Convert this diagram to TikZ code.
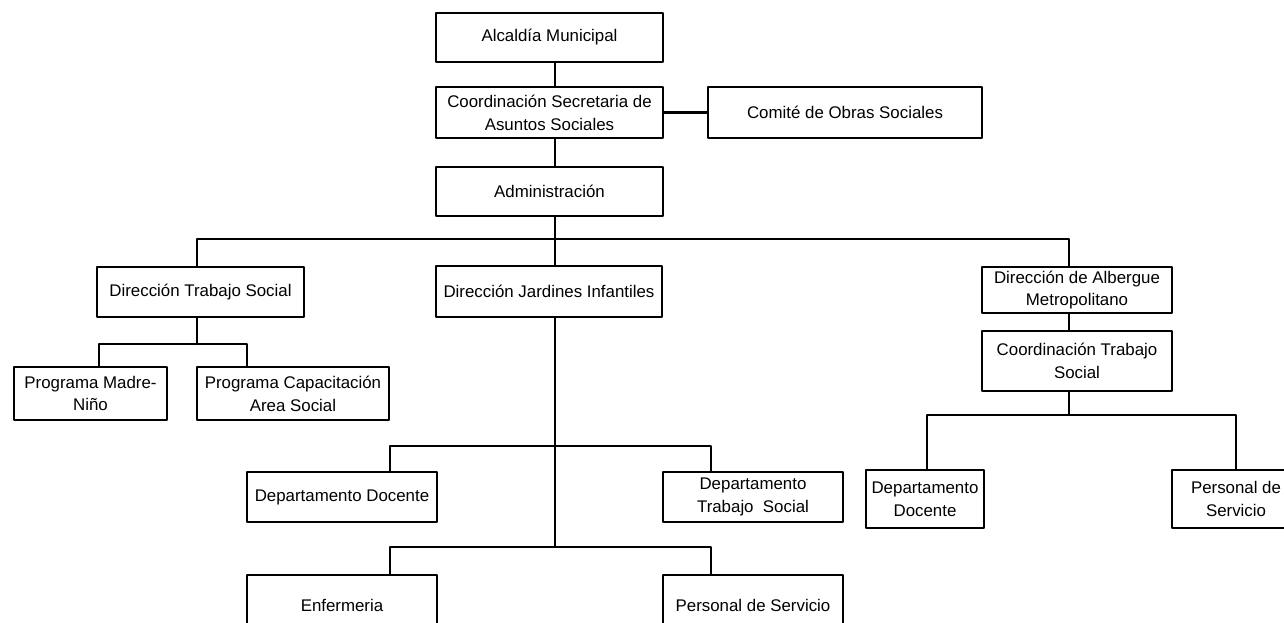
\documentclass[tikz,border=0pt]{standalone}
\usepackage{fontspec}
\setmainfont{Liberation Sans}
\usepackage{tikz}
\usetikzlibrary{positioning}
\usetikzlibrary{calc}

\tikzset{
  caja/.style 2 args={draw,line width=0.8pt,align=center,inner sep=1pt,
    minimum width=#1*0.02cm,minimum height=#2*0.02cm,
    font=\fontsize{9.6}{13}\selectfont},
  linea/.style={line width=1.4pt}
}

\begin{document}
\begin{tikzpicture}[line cap=round,line join=round,x=0.02cm,y=-0.02cm]
\useasboundingbox (0,0) rectangle (1284,622);
\fill[white] (0,0) rectangle (1284,622);
\clip (0,0) rectangle (1284,622);
% boxes
\node[caja={227}{49}] (alc) at (549.5,37.5) {Alcaldía Municipal};
\node[caja={227}{51}] (csec) at (549.5,112.5) {Coordinación Secretaria de\\Asuntos Sociales};
\node[caja={274}{51}] (comite) at (845,112.5) {Comité de Obras Sociales};
\node[caja={227}{49}] (admin) at (549.5,191.5) {Administración};
\node[caja={207}{50}] (dts) at (200.5,292) {Dirección Trabajo Social};
\node[caja={226}{51}] (jard) at (549,291.5) {Dirección Jardines Infantiles};
\node[caja={190}{46}] (alb) at (1077,290) {Dirección de Albergue\\Metropolitano};
\node[caja={190}{60}] (cts) at (1077,361) {Coordinación Trabajo\\Social};
\node[caja={153}{53}] (madre) at (90.5,393.5) {Programa Madre-\\Niño};
\node[caja={192}{53}] (capac) at (293,393.5) {Programa Capacitación\\Area Social};
\node[caja={190}{50}] (ddoc) at (342,497) {Departamento Docente};
\node[caja={180}{50}] (dtsoc) at (753,497) {Departamento\\Trabajo\ \ Social};
\node[caja={118}{58}] (rdoc) at (925,499) {Departamento\\Docente};
\node[caja={128}{58}] (rpers) at (1236,499) {Personal de\\Servicio};
\node[caja={190}{60}] (enf) at (342,605) {Enfermeria};
\node[caja={180}{60}] (pers) at (753,605) {Personal de Servicio};
% junctions
\coordinate (bus) at (555,239);
\coordinate (busL) at (197,239);
\coordinate (busR) at (1069,239);
\coordinate (s1) at (197,344);
\coordinate (s1a) at (99,344);
\coordinate (s1b) at (247,344);
\coordinate (j1) at (555,446);
\coordinate (j1a) at (390,446);
\coordinate (j1b) at (711,446);
\coordinate (j2) at (555,547);
\coordinate (j2a) at (390,547);
\coordinate (j2b) at (711,547);
\coordinate (a1) at (1069,415);
\coordinate (a1a) at (927,415);
\coordinate (a1b) at (1236,415);
% connectors
\draw[linea] (alc.south -| bus) -- (csec.north -| bus);
\draw[linea] (csec.south -| bus) -- (admin.north -| bus);
\draw[linea] (admin.south -| bus) -- (jard.north -| bus);
\draw[linea] (csec.east) -- (comite.west);
\draw[linea] (busL |- dts.north) -- (busL) -- (busR) -- (busR |- alb.north);
\draw[linea] (dts.south -| s1) -- (s1);
\draw[linea] (s1a |- madre.north) -- (s1a) -- (s1b) -- (s1b |- capac.north);
\draw[linea] (jard.south -| j1) -- (j2);
\draw[linea] (j1a |- ddoc.north) -- (j1a) -- (j1b) -- (j1b |- dtsoc.north);
\draw[linea] (j2a |- enf.north) -- (j2a) -- (j2b) -- (j2b |- pers.north);
\draw[linea] (alb.south -| busR) -- (cts.north -| busR);
\draw[linea] (cts.south -| a1) -- (a1);
\draw[linea] (a1a |- rdoc.north) -- (a1a) -- (a1b) -- (a1b |- rpers.north);
\end{tikzpicture}
\end{document}
